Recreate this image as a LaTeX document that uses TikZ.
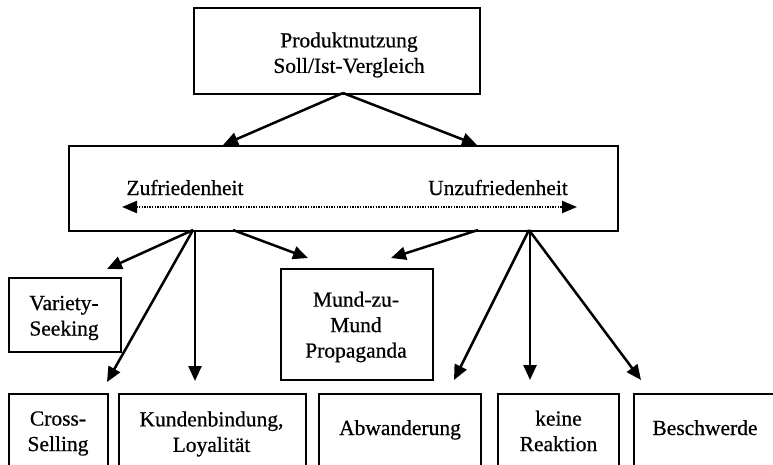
\documentclass[tikz,border=0pt]{standalone}
\usepackage{fontspec}
\setmainfont{Liberation Serif}[FakeBold=0.6]
\usetikzlibrary{arrows.meta}
\begin{document}
\begin{tikzpicture}[x=1pt,y=-1pt,
  frame/.style={draw, line width=1.7pt, inner sep=0pt, anchor=north west},
  txt/.style={align=center, inner sep=0pt, font=\fontsize{21.5}{25.5}\selectfont},
  arr/.style={line width=2.5pt, -{Triangle[length=15pt,width=13pt]}},
  dotarr/.style={line width=2.2pt, dash pattern=on 1.4pt off 1.2pt,
    {Triangle[length=15pt,width=12pt]}-{Triangle[length=15pt,width=12pt]}}]
\useasboundingbox (0,0) rectangle (773,465);
\clip (0,0) rectangle (773,465);

% frames
\node[frame, minimum width=286pt, minimum height=86pt] (top) at (193,7) {};
\node[frame, minimum width=549pt, minimum height=85pt] (mid) at (68,145) {};
\node[frame, minimum width=112pt, minimum height=74pt] (vs) at (8,277) {};
\node[frame, minimum width=152pt, minimum height=111pt] (mm) at (280,268) {};
% bottom row, open below the page edge
\node[frame, minimum width=99pt,  minimum height=100pt] (cs) at (8,393) {};
\node[frame, minimum width=187pt, minimum height=100pt] (kb) at (118,393) {};
\node[frame, minimum width=162pt, minimum height=100pt] (ab) at (318,393) {};
\node[frame, minimum width=121pt, minimum height=100pt] (kr) at (497,393) {};
\node[frame, minimum width=160pt, minimum height=100pt] (be) at (633,393) {};

% texts
\node[txt] (top-t) at (349,55) {Produktnutzung\\Soll/Ist-Vergleich};
\node[txt, anchor=base] (zuf) at (185,195) {Zufriedenheit};
\node[txt, anchor=base] (unz) at (498,195) {Unzufriedenheit};
\node[txt] (vs-t) at (64,318) {Variety-\\Seeking};
\node[txt] (mm-t) at (356,327) {Mund-zu-\\Mund\\Propaganda};
\node[txt] (cs-t) at (58,433.5) {Cross-\\Selling};
\node[txt] (kb-t) at (211.5,434) {Kundenbindung,\\Loyalität};
\node[txt, anchor=base] (ab-t) at (400,435) {Abwanderung};
\node[txt] (kr-t) at (558.5,431) {keine\\Reaktion};
\node[txt, anchor=base] (be-t) at (705,435) {Beschwerde};

% connector ends
\coordinate (apex) at (343,93);
\coordinate (mL) at (223,145);
\coordinate (mR) at (477,145);
\coordinate (o1) at (193,230);
\coordinate (o2) at (233,230);
\coordinate (o3) at (478,230);
\coordinate (o4) at (529,230);
\coordinate (tVS) at (107,269);
\coordinate (tCS) at (107,382);
\coordinate (tKB) at (195,381);
\coordinate (tM1) at (308,258);
\coordinate (tM2) at (391,258);
\coordinate (tAB) at (454,380);
\coordinate (tKR) at (530,380);
\coordinate (tBE) at (641,380);
\coordinate (dl) at (122,207);
\coordinate (dr) at (577,207);

% connectors
\draw[arr] (apex) -- (mL);
\draw[arr] (apex) -- (mR);
\draw[dotarr] (dl) -- (dr);
\draw[arr] (o1) -- (tVS);
\draw[arr] (o1) -- (tCS);
\draw[arr] (o1 -| tKB) -- (tKB);
\draw[arr] (o2) -- (tM1);
\draw[arr] (o3) -- (tM2);
\draw[arr] (o4) -- (tAB);
\draw[arr] (o4 -| tKR) -- (tKR);
\draw[arr] (o4) -- (tBE);
\end{tikzpicture}
\end{document}
